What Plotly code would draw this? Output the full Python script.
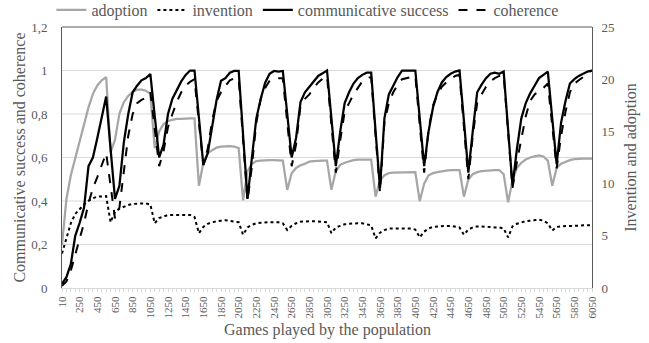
import plotly.graph_objects as go

# x categories: games played by the population
games = [
    10, 100, 150, 200, 250, 300, 350, 400, 450, 500,
    550, 600, 650, 700, 750, 800, 850, 900, 950, 1000,
    1050, 1100, 1150, 1200, 1250, 1300, 1350, 1400, 1450, 1500,
    1550, 1600, 1650, 1700, 1750, 1800, 1850, 1900, 1950, 2000,
    2050, 2100, 2150, 2200, 2250, 2300, 2350, 2400, 2450, 2500,
    2550, 2600, 2650, 2700, 2750, 2800, 2850, 2900, 2950, 3000,
    3050, 3100, 3150, 3200, 3250, 3300, 3350, 3400, 3450, 3500,
    3550, 3600, 3650, 3700, 3750, 3800, 3850, 3900, 3950, 4000,
    4050, 4100, 4150, 4200, 4250, 4300, 4350, 4400, 4450, 4500,
    4550, 4600, 4650, 4700, 4750, 4800, 4850, 4900, 4950, 5000,
    5050, 5100, 5150, 5200, 5250, 5300, 5350, 5400, 5450, 5500,
    5550, 5600, 5650, 5700, 5750, 5800, 5850, 5900, 5950, 6000,
    6050,
]

# right axis series (invention and adoption)
adoption = [
    4.1, 8.5, 10.8, 12.5, 14.2, 15.8, 17.3, 18.6, 19.4, 19.9, 20.2,
    13.0, 14.2, 16.7, 17.8, 18.4, 18.8, 19.0, 19.0, 18.9, 18.6,
    13.4, 15.0, 15.7, 16.0, 16.1, 16.2, 16.2, 16.25, 16.25, 16.25,
    9.8, 12.0, 12.9, 13.2, 13.45, 13.55, 13.6, 13.6, 13.55, 13.4,
    8.4, 11.2, 11.9, 12.15, 12.2, 12.25, 12.25, 12.25, 12.2, 12.2,
    9.4, 11.0, 11.5, 11.75, 11.9, 12.1, 12.15, 12.2, 12.2, 12.2,
    9.4, 11.2, 11.8, 12.0, 12.15, 12.25, 12.3, 12.3, 12.3, 12.3,
    8.75, 10.3, 10.8, 11.0, 11.05, 11.05, 11.05, 11.05, 11.05, 11.1,
    8.3, 10.0, 10.8, 11.0, 11.1, 11.2, 11.25, 11.3, 11.3, 11.3,
    8.75, 10.4, 10.9, 11.1, 11.2, 11.25, 11.3, 11.3, 11.3, 10.9,
    8.2, 10.3, 11.5, 12.0, 12.3, 12.5, 12.6, 12.7, 12.6, 12.2,
    9.8, 11.5, 11.9, 12.1, 12.25, 12.35, 12.4, 12.4, 12.4, 12.4,
]
invention = [
    3.3, 4.7, 6.2, 7.1, 7.6, 8.0, 8.35, 8.6, 8.75, 8.8, 8.8,
    6.3, 7.3, 7.6, 7.8, 7.95, 8.05, 8.1, 8.1, 8.1, 8.0,
    6.2, 6.7, 6.85, 7.0, 7.0, 7.0, 7.0, 7.0, 7.0, 6.8,
    5.25, 5.85, 6.15, 6.3, 6.4, 6.45, 6.5, 6.45, 6.4, 6.3,
    5.1, 5.8, 6.05, 6.2, 6.25, 6.3, 6.3, 6.3, 6.3, 6.2,
    5.55, 5.95, 6.2, 6.35, 6.4, 6.4, 6.4, 6.35, 6.35, 6.3,
    5.25, 5.8, 5.95, 6.1, 6.15, 6.2, 6.2, 6.2, 6.1, 6.0,
    4.75, 5.3, 5.55, 5.7, 5.7, 5.7, 5.7, 5.7, 5.7, 5.6,
    4.85, 5.4, 5.7, 5.85, 5.9, 5.95, 5.95, 5.95, 5.9, 5.8,
    5.1, 5.6, 5.8, 5.9, 5.9, 5.85, 5.85, 5.8, 5.8, 5.7,
    4.85, 5.9, 6.15, 6.3, 6.4, 6.45, 6.5, 6.55, 6.45, 6.2,
    5.5, 5.85, 5.9, 5.95, 5.95, 5.95, 6.0, 6.0, 6.0, 6.0,
]

# left axis series (communicative success and coherence)
comm_success = [
    0.02, 0.05, 0.11, 0.24, 0.30, 0.37, 0.56, 0.60, 0.69, 0.78, 0.88,
    0.64, 0.41, 0.47, 0.67, 0.80, 0.90, 0.93, 0.955, 0.965, 0.984,
    0.79, 0.60, 0.66, 0.80, 0.87, 0.91, 0.95, 0.98, 1.0, 1.0,
    0.78, 0.566, 0.62, 0.75, 0.864, 0.953, 0.965, 0.99, 0.998, 0.998,
    0.70, 0.41, 0.60, 0.78, 0.87, 0.944, 0.985, 0.998, 0.995, 0.998,
    0.80, 0.60, 0.69, 0.855, 0.90, 0.925, 0.955, 0.975, 0.987, 1.0,
    0.78, 0.56, 0.72, 0.85, 0.90, 0.94, 0.965, 0.98, 0.99, 0.99,
    0.72, 0.46, 0.78, 0.89, 0.93, 0.97, 1.0, 1.0, 1.0, 1.0,
    0.78, 0.56, 0.72, 0.83, 0.90, 0.945, 0.97, 0.985, 0.995, 1.0,
    0.77, 0.53, 0.72, 0.90, 0.935, 0.965, 0.985, 0.99, 0.985, 0.995,
    0.73, 0.47, 0.64, 0.78, 0.85, 0.895, 0.93, 0.965, 0.98, 0.995,
    0.78, 0.57, 0.76, 0.86, 0.94, 0.96, 0.975, 0.985, 0.995, 1.0,
]
coherence = [
    0.01, 0.03, 0.08, 0.15, 0.23, 0.30, 0.39, 0.46, 0.51, 0.57, 0.62,
    0.47, 0.32, 0.37, 0.55, 0.70, 0.80, 0.85, 0.865, 0.875, 0.90,
    0.73, 0.56, 0.63, 0.74, 0.80, 0.856, 0.90, 0.93, 0.948, 0.96,
    0.76, 0.565, 0.64, 0.77, 0.86, 0.90, 0.93, 0.955, 0.964, 0.964,
    0.68, 0.40, 0.56, 0.76, 0.87, 0.92, 0.953, 0.962, 0.964, 0.964,
    0.76, 0.56, 0.66, 0.84, 0.87, 0.89, 0.92, 0.945, 0.962, 0.975,
    0.75, 0.53, 0.68, 0.81, 0.85, 0.89, 0.92, 0.95, 0.965, 0.97,
    0.70, 0.44, 0.76, 0.85, 0.90, 0.935, 0.96, 0.965, 0.97, 0.975,
    0.75, 0.53, 0.73, 0.84, 0.89, 0.925, 0.945, 0.96, 0.975, 0.98,
    0.74, 0.50, 0.70, 0.85, 0.89, 0.925, 0.95, 0.965, 0.975, 0.98,
    0.72, 0.46, 0.58, 0.69, 0.79, 0.86, 0.89, 0.905, 0.92, 0.94,
    0.74, 0.55, 0.70, 0.81, 0.90, 0.94, 0.955, 0.97, 0.99, 1.0,
]

left_tickvals = [0, 0.2, 0.4, 0.6, 0.8, 1.0, 1.2]
left_ticktext = ["0", "0,2", "0,4", "0,6", "0,8", "1", "1,2"]
right_tickvals = [0, 5, 10, 15, 20, 25]
label_every = 4

FONT = "Times New Roman, Liberation Serif, serif"
TXT = "#595959"
AXIS = "#595959"
GRID = "#d9d9d9"

cats = [str(g) for g in games]
ticktext = [c if i % label_every == 0 else "" for i, c in enumerate(cats)]

R_MAX = right_tickvals[-1]
L_MAX = left_tickvals[-1]

fig = go.Figure()
fig.add_trace(go.Scatter(x=cats, y=adoption, name="adoption", yaxis="y", mode="lines",
                         line=dict(color="#a6a6a6", width=2.25)))
fig.add_trace(go.Scatter(x=cats, y=invention, name="invention", yaxis="y", mode="lines",
                         line=dict(color="#000000", width=2, dash="dot")))
fig.add_trace(go.Scatter(x=cats, y=comm_success, name="communicative success", yaxis="y2",
                         mode="lines", line=dict(color="#000000", width=2.25)))
fig.add_trace(go.Scatter(x=cats, y=coherence, name="coherence", yaxis="y2", mode="lines",
                         line=dict(color="#000000", width=2, dash="dash")))

# horizontal gridlines of the left axis
shapes = [dict(type="line", xref="paper", yref="y2", x0=0, x1=1, y0=v, y1=v,
               line=dict(color=GRID, width=1), layer="below")
          for v in left_tickvals if 0 < v < L_MAX]
# top frame line
shapes.append(dict(type="line", xref="paper", yref="paper", x0=0, x1=1, y0=1, y1=1,
                   line=dict(color=AXIS, width=1), layer="above"))

fig.update_layout(
    width=649, height=343,
    margin=dict(l=62, r=57, t=27, b=55, pad=0, autoexpand=False),
    paper_bgcolor="white", plot_bgcolor="white",
    font=dict(family=FONT, color=TXT, size=13),
    showlegend=True,
    legend=dict(orientation="h", x=-0.02, xanchor="left", y=1.0, yanchor="bottom",
                font=dict(family=FONT, size=16, color=TXT), bgcolor="rgba(0,0,0,0)",
                itemwidth=30, tracegroupgap=0),
    xaxis=dict(type="category", range=[0, len(cats) - 1], tickmode="array",
               tickvals=cats, ticktext=ticktext, tickangle=-90, automargin=False,
               tickfont=dict(family=FONT, size=11, color=TXT),
               ticks="outside", ticklen=3, tickcolor=GRID, showgrid=False,
               showline=True, linecolor=GRID, linewidth=1, zeroline=False),
    # right axis (primary): invention and adoption
    yaxis=dict(side="right", range=[0, R_MAX], tickmode="array", tickvals=right_tickvals,
               showgrid=False, zeroline=False, showline=True, linecolor=AXIS, linewidth=1,
               ticks="", ticklabelstandoff=6, automargin=False,
               tickfont=dict(family=FONT, size=13, color=TXT),
               title=dict(text="Invention and adoption", standoff=11,
                          font=dict(family=FONT, size=16, color=TXT))),
    # left axis: communicative success and coherence
    yaxis2=dict(side="left", overlaying="y", range=[0, L_MAX], tickmode="array",
                tickvals=left_tickvals, ticktext=left_ticktext,
                showgrid=False, zeroline=False, automargin=False,
                showline=True, linecolor=AXIS, linewidth=1, ticks="", ticklabelstandoff=11,
                tickfont=dict(family=FONT, size=13, color=TXT),
                title=dict(text="Communicative success and coherence", standoff=1,
                           font=dict(family=FONT, size=16, color=TXT))),
    shapes=shapes,
    annotations=[dict(text="Games played by the population", xref="paper", yref="paper",
                      x=0.5, y=-0.161, xanchor="center", yanchor="middle", showarrow=False,
                      font=dict(family=FONT, size=16, color=TXT))],
)

fig.write_html("out.html", config={"displayModeBar": False},
               post_script="document.body.style.margin='0';document.body.style.overflow='hidden';")
